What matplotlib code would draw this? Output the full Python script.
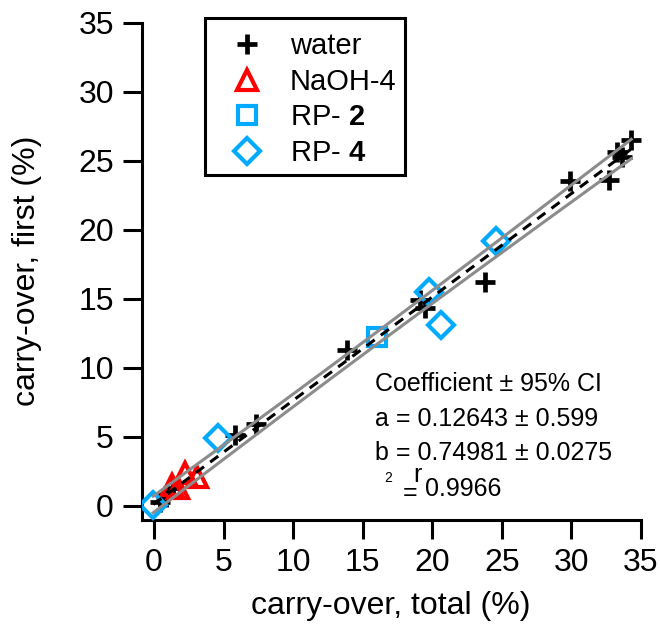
import numpy as np
import matplotlib
matplotlib.use("Agg")
import matplotlib.pyplot as plt
from matplotlib.patches import Rectangle

plt.rcParams['font.family'] = ['Liberation Sans', 'DejaVu Sans']
plt.rcParams['mathtext.fontset'] = 'custom'
plt.rcParams['mathtext.rm'] = 'Liberation Sans'
plt.rcParams['mathtext.bf'] = 'Liberation Sans:bold'

# ---- data ----
water_x = [0.4, 0.9, 1.4, 5.8, 7.3, 13.9, 19.1, 19.5, 23.8, 29.9, 32.7, 33.6, 33.3, 34.3]
water_y = [0.3, 0.6, 1.3, 5.1, 5.9, 11.3, 14.9, 14.3, 16.2, 23.5, 23.6, 25.3, 25.6, 26.5]
naoh_x = [1.3, 1.7, 2.2, 3.1]
naoh_y = [1.5, 1.3, 2.4, 2.1]
rp2_x = [16.0]
rp2_y = [12.2]
rp4_x = [-0.05, 4.6, 19.8, 20.65, 24.6]
rp4_y = [0.05, 4.9, 15.5, 13.1, 19.2]

coef_a, ci_a = 0.12643, 0.599
coef_b, ci_b = 0.74981, 0.0275
r2 = 0.9966

BLUE = '#00AAFF'
RED = '#FF0000'
GREY = '#8C8C8C'
FS = 23
LFS = 21

W, H = 660, 629
fig = plt.figure(figsize=(6.6, 6.29), dpi=100)
ax = fig.add_axes([141.7 / W, 1 - 520 / H, (641 - 141.7) / W, (520 - 22.7) / H])

ax.plot(water_x, water_y, ls='none', marker='+', ms=14, mew=3.4, color='black', label='water', zorder=3)
ax.plot(naoh_x, naoh_y, ls='none', marker='^', ms=15, mew=3, mfc='none', mec=RED, label='NaOH-4', zorder=3)
ax.plot(rp2_x, rp2_y, ls='none', marker='s', ms=12.5, mew=3, mfc='none', mec=BLUE, label='RP- $\\mathbf{2}$', zorder=3)
ax.plot(rp4_x, rp4_y, ls='none', marker='D', ms=13.5, mew=3, mfc='none', mec=BLUE, label='RP- $\\mathbf{4}$', zorder=3)

# fit line and 95% confidence band
all_x = np.array(water_x + naoh_x + rp2_x + rp4_x)
xm = all_x.mean()
xf = np.linspace(all_x.min(), all_x.max(), 200)
yf = coef_a + coef_b * xf
half = np.sqrt(np.maximum(ci_a**2 + (xf**2 - 2 * xf * xm) * ci_b**2, 0))
ax.plot(xf, yf + half, color=GREY, lw=2.2, zorder=4)
ax.plot(xf, yf - half, color=GREY, lw=2.2, zorder=4)
ax.plot(xf, yf, color='black', lw=2.2, ls=(0, (3.3, 2.5)), zorder=5)

ax.set_xlim(-0.88, 35)
ax.set_ylim(-1.04, 35)
ticks = [0, 5, 10, 15, 20, 25, 30, 35]
ax.set_xticks(ticks)
ax.set_yticks(ticks)
for s in ['top', 'right']:
    ax.spines[s].set_visible(False)
for s in ['left', 'bottom']:
    ax.spines[s].set_linewidth(2.2)
ax.tick_params(direction='out', length=14, width=2.2, labelsize=FS, pad=6)

fig.text(391 / W, 1 - 606 / H, 'carry-over, total (%)', fontsize=FS, ha='center', va='center')
fig.text(27 / W, 1 - 271 / H, 'carry-over, first (%)', fontsize=FS, ha='center', va='center',
         rotation=90)

leg = ax.legend(loc='upper left', bbox_to_anchor=(223.6 / W, 1 - 32.3 / H),
                bbox_transform=fig.transFigure, borderaxespad=0, frameon=False,
                fontsize=LFS, labelspacing=0.26, handletextpad=0.67, borderpad=0.0,
                handlelength=1.6, numpoints=1)
fig.patches.append(Rectangle((205 / W, 1 - 175 / H), 200 / W, 157 / H,
                             transform=fig.transFigure, fill=False,
                             edgecolor='black', linewidth=2.2))

fs = 18
ax.text(15.87, 8.82, 'Coefficient \u00b1 95% CI', fontsize=fs, va='center', ha='left')
ax.text(15.87, 6.28, f'a = {coef_a:.5f} \u00b1 {ci_a}', fontsize=fs, va='center', ha='left')
ax.text(15.87, 3.82, f'b = {coef_b:.5f} \u00b1 {ci_b}', fontsize=fs, va='center', ha='left')
ax.text(16.8, 2.0, '2', fontsize=10, va='center', ha='center')
ax.text(17.85, 0.95, '=', fontsize=fs, va='center', ha='left')
ax.text(18.95, 2.2, 'r', fontsize=fs, va='center', ha='center')
ax.text(19.45, 1.21, f'{r2}', fontsize=fs, va='center', ha='left')

fig.savefig('out.png', dpi=100)
